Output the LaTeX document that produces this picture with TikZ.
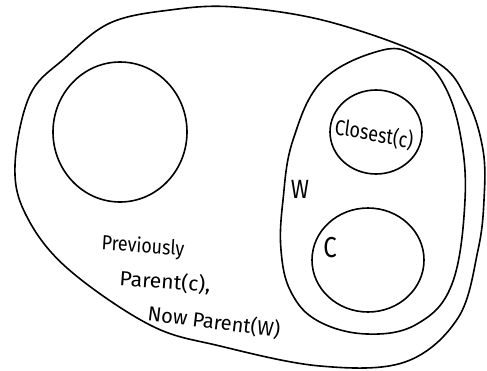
\documentclass[tikz,border=0pt]{standalone}
\usepackage{fontspec}
\setsansfont{Fira Sans}
\tikzset{
  pen/.style={line width=1.6pt, line join=round},
  hand/.style={font=\sffamily\fontsize{17}{19}\selectfont, inner sep=0.75pt, yscale=1.2}
}
\begin{document}
\begin{tikzpicture}[x=1pt,y=1pt,yscale=-1]
\useasboundingbox (0,0) rectangle (487,370);

%Curve Lines: outer set
\draw [pen] plot [smooth cycle, tension=0.6] coordinates {
  (110,23) (170,10) (235,7) (330,22) (433,60) (467,100) (483,150)
  (484,200) (478,250) (458,318) (405,362) (320,366) (220,346)
  (150,325) (67,268) (26,215) (15,165) (30,95) (65,58)};

%Shape: Circle left
\draw [pen] (120,132) ellipse (67 and 70);
\node (left) at (120,132) {};

%Curve Lines: set W
\draw [pen] plot [smooth cycle, tension=0.65] coordinates {
  (383,50) (323,80) (293,140) (283,200) (281,250) (291,292) (318,321)
  (367,334) (417,324) (452,284) (465,200) (460,133) (443,83) (417,57)};
\node (wset) at (374,191) {};

%Shape: Circle Closest(c)
\draw [pen] (376,132) ellipse (46 and 42);
\node (closest) [hand, font=\sffamily\fontsize{18}{20}\selectfont, rotate=-9] at (374,134) {Closest(c)};

%Shape: Circle c
\draw [pen] (368,260) ellipse (56 and 52);
\node (cnode) [hand, font=\sffamily\fontsize{24}{26}\selectfont] at (330,248) {C};

% Text Node
\node (wlabel) [hand, font=\sffamily\fontsize{22}{24}\selectfont] at (300,189) {W};
% Text Node
\draw (143,247) node (prev) [hand, xscale=1.05, rotate=-4] {Previously};
% Text Node
\draw (165,282) node (parc) [hand, xscale=1.25, rotate=-4] {Parent(c),};
% Text Node
\draw (214,322) node (parw) [hand, xscale=1.18, rotate=-7] {Now Parent(W)};

\end{tikzpicture}
\end{document}
